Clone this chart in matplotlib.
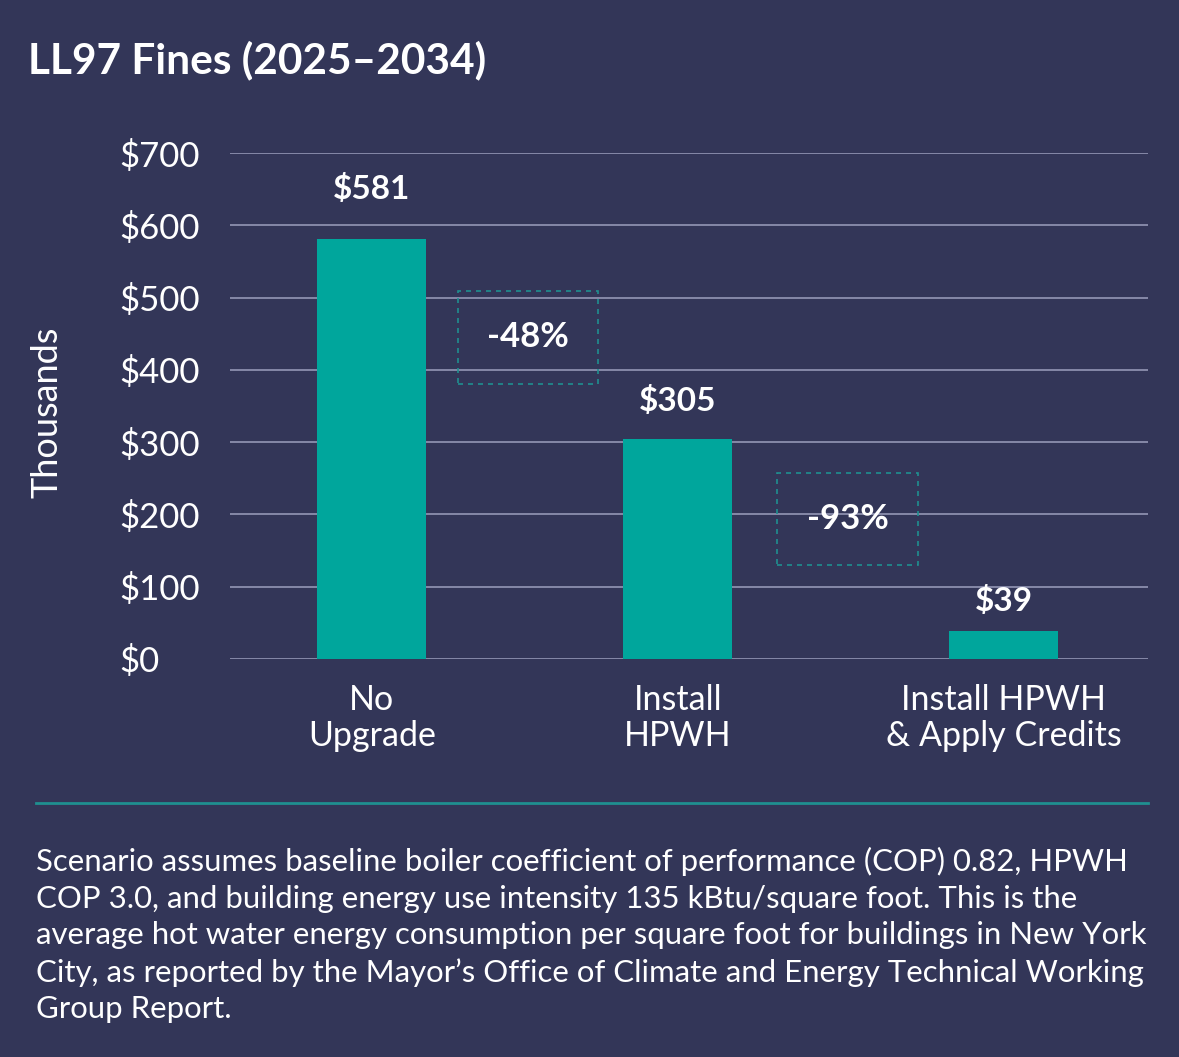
import matplotlib.pyplot as plt
from matplotlib.patches import Rectangle
from matplotlib.lines import Line2D

# data (thousands of dollars)
categories = ['No\nUpgrade', 'Install\nHPWH', 'Install HPWH\n& Apply Credits']
fines = [581, 305, 39]
value_labels = ['$581', '$305', '$39']
y_ticks = [0, 100, 200, 300, 400, 500, 600, 700]
y_tick_labels = ['$0', '$100', '$200', '$300', '$400', '$500', '$600', '$700']
reductions = ['-48%', '-93%']
reduction_levels = [445, 194]

title = 'LL97 Fines (2025\u20132034)'
note = ("Scenario assumes baseline boiler coefficient of performance (COP) 0.82, HPWH\n"
        "COP 3.0, and building energy use intensity 135 kBtu/square foot. This is the\n"
        "average hot water energy consumption per square foot for buildings in New York\n"
        "City, as reported by the Mayor\u2019s Office of Climate and Energy Technical Working\n"
        "Group Report.")

BG = '#333658'
TEAL = '#00a69c'
GRID = '#9c9fbd'
BOX = '#1f8f90'
FG = '#ffffff'

plt.rcParams['font.family'] = ['Lato', 'DejaVu Sans']

W, H = 1179, 1057
fig = plt.figure(figsize=(W / 100, H / 100), dpi=100, facecolor=BG)
ax = fig.add_axes([230 / W, 1 - 659 / H, 918 / W, (659 - 153) / H])
ax.set_facecolor(BG)

x = [0, 0.968, 2]
ax.bar(x, fines, width=0.345, color=TEAL, zorder=3)
ax.set_xlim(-0.449, 2.456)
ax.set_ylim(0, 700)

# value labels above the bars
offsets = [50, 38, 30]
for xi, v, lab, off in zip(x, fines, value_labels, offsets):
    ax.annotate(lab, (xi, v), xytext=(0, off * 0.72), textcoords='offset points',
                ha='center', va='center', color=FG, fontsize=24, fontweight='bold')

# dashed boxes with percent reductions between bars
box_centers = [0.494, 1.506]
for cx, lab, lev in zip(box_centers, reductions, reduction_levels):
    bw, bh = 0.446, 128
    ax.add_patch(Rectangle((cx - bw / 2, lev - bh / 2), bw, bh, fill=False,
                           edgecolor=BOX, lw=1.2, ls=(0, (3, 3)), zorder=4))
    ax.text(cx, lev, lab, ha='center', va='center', color=FG,
            fontsize=25, fontweight='bold', zorder=5)

ax.set_yticks(y_ticks)
ax.set_yticklabels(y_tick_labels, color=FG, fontsize=25)
for t in ax.get_yticklabels():
    t.set_ha('left')
ax.tick_params(axis='y', length=0, pad=80)
ax.set_xticks(x)
ax.set_xticklabels(categories, color=FG, fontsize=24.5, linespacing=1.15)
ax.tick_params(axis='x', length=0, pad=18)

ax.yaxis.grid(True, color=GRID, lw=1.1)
ax.set_axisbelow(True)
for s in ax.spines.values():
    s.set_visible(False)

fig.text(47 / W, 1 - 412 / H, 'Thousands', rotation=90, ha='center', va='center',
         color=FG, fontsize=26)

fig.text(28 / W, 1 - 60 / H, title, ha='left', va='center', color=FG,
         fontsize=30.5, fontweight='bold')

fig.add_artist(Line2D([36 / W, 1148 / W], [1 - 803 / H] * 2, color=BOX, lw=2))

fig.text(36 / W, 1 - 847 / H, note, ha='left', va='top', color=FG,
         fontsize=22.4, linespacing=1.37)

fig.savefig('out.png', dpi=100, facecolor=BG)
